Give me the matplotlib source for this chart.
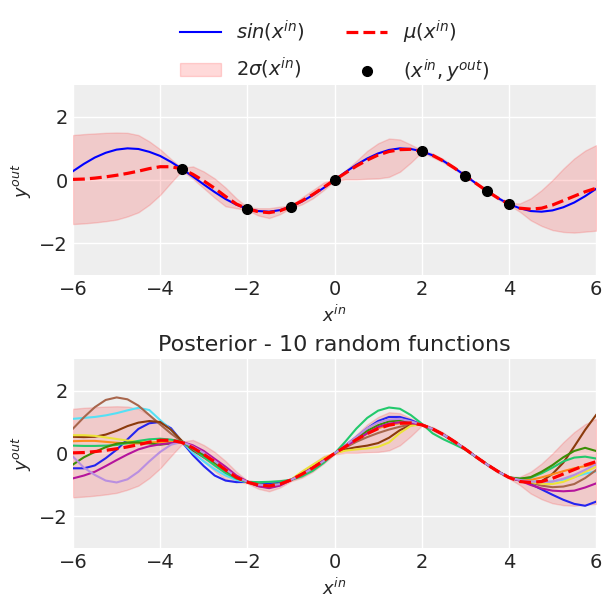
import numpy as np
import matplotlib
matplotlib.use("Agg")
import matplotlib.pyplot as plt

plt.rcParams.update({
    "font.family": "DejaVu Sans",
    "axes.facecolor": "#eeeeee",
    "axes.edgecolor": "#eeeeee",
    "axes.grid": True,
    "grid.color": "white",
    "grid.linewidth": 1.0,
    "axes.axisbelow": True,
    "xtick.labelsize": 14,
    "ytick.labelsize": 14,
    "xtick.color": "#262626",
    "ytick.color": "#262626",
    "xtick.major.size": 0,
    "ytick.major.size": 0,
    "axes.labelsize": 13,
    "axes.titlesize": 16,
    "text.color": "#262626",
    "axes.labelcolor": "#262626",
})

# grid of inputs the curves were read on
x_grid = np.linspace(-6, 6, 49)

# observed points
x_obs = [-3.5, -2, -1, 0, 2, 3, 3.5, 4]
y_obs = [0.35, -0.91, -0.84, 0.0, 0.91, 0.14, -0.35, -0.76]

sin_vals = [0.28, 0.51, 0.71, 0.86, 0.96, 1.00, 0.98, 0.89, 0.76, 0.57, 0.35, 0.11,
            -0.14, -0.38, -0.60, -0.78, -0.91, -0.98, -1.00, -0.95, -0.84, -0.68, -0.48, -0.25,
            0.00, 0.25, 0.48, 0.68, 0.84, 0.95, 1.00, 0.98, 0.91, 0.78, 0.60, 0.38,
            0.14, -0.11, -0.35, -0.57, -0.76, -0.89, -0.98, -1.00, -0.96, -0.86, -0.71, -0.51, -0.28]

mu_vals = [0.02, 0.03, 0.06, 0.10, 0.15, 0.21, 0.28, 0.36, 0.42, 0.42, 0.35, 0.18,
           -0.03, -0.26, -0.52, -0.76, -0.91, -1.00, -1.03, -0.97, -0.84, -0.66, -0.46, -0.23,
           0.00, 0.22, 0.44, 0.63, 0.79, 0.90, 0.96, 0.97, 0.91, 0.78, 0.60, 0.38,
           0.14, -0.11, -0.35, -0.57, -0.76, -0.89, -0.92, -0.89, -0.79, -0.65, -0.51, -0.37, -0.26]

band_hi = [1.42, 1.45, 1.47, 1.49, 1.50, 1.49, 1.42, 1.22, 0.97, 0.66, 0.38, 0.43,
           0.27, 0.05, -0.24, -0.58, -0.86, -0.89, -0.89, -0.84, -0.81, -0.55, -0.32, -0.08,
           0.03, 0.30, 0.60, 0.92, 1.16, 1.31, 1.28, 1.12, 0.94, 0.84, 0.66, 0.42,
           0.17, -0.08, -0.32, -0.53, -0.73, -0.74, -0.58, -0.32, 0.00, 0.36, 0.68, 0.93, 1.10]

band_lo = [-1.39, -1.37, -1.34, -1.30, -1.25, -1.15, -1.02, -0.78, -0.47, -0.08, 0.30, 0.04,
           -0.26, -0.56, -0.83, -0.89, -0.95, -1.12, -1.20, -1.08, -0.88, -0.77, -0.58, -0.32,
           -0.03, 0.02, 0.02, 0.04, 0.05, 0.10, 0.26, 0.55, 0.88, 0.72, 0.55, 0.34,
           0.11, -0.14, -0.38, -0.61, -0.79, -1.00, -1.27, -1.45, -1.58, -1.64, -1.66, -1.63, -1.60]

# 10 posterior draws
draw_blue = [-0.47, -0.47, -0.38, -0.15, 0.12, 0.45, 0.78, 0.96, 1.00, 0.80, 0.37, -0.05,
             -0.40, -0.70, -0.86, -0.91, -0.90, -0.94, -0.96, -0.93, -0.83, -0.67, -0.46, -0.22,
             0.00, 0.26, 0.52, 0.80, 1.03, 1.16, 1.16, 1.06, 0.92, 0.77, 0.59, 0.37,
             0.14, -0.11, -0.35, -0.57, -0.76, -0.85, -0.97, -1.14, -1.31, -1.47, -1.60, -1.66, -1.53]
draw_cyan = [1.10, 1.13, 1.16, 1.21, 1.28, 1.37, 1.45, 1.38, 1.06, 0.75, 0.38, 0.02,
             -0.25, -0.50, -0.70, -0.84, -0.91, -0.98, -1.01, -0.96, -0.84, -0.66, -0.46, -0.23,
             0.00, 0.23, 0.45, 0.66, 0.83, 0.93, 0.97, 0.96, 0.91, 0.77, 0.59, 0.37,
             0.14, -0.11, -0.35, -0.57, -0.76, -0.86, -0.89, -0.90, -0.89, -0.83, -0.75, -0.64, -0.57]
draw_brown = [0.79, 1.15, 1.47, 1.70, 1.78, 1.72, 1.52, 1.22, 0.92, 0.63, 0.38, 0.12,
              -0.10, -0.32, -0.55, -0.76, -0.90, -0.99, -1.03, -0.98, -0.84, -0.65, -0.45, -0.22,
              0.00, 0.19, 0.37, 0.52, 0.65, 0.76, 0.85, 0.92, 0.92, 0.78, 0.60, 0.38,
              0.14, -0.11, -0.35, -0.57, -0.76, -0.85, -0.93, -1.02, -1.07, -1.05, -0.97, -0.78, -0.53]
draw_darkbrown = [0.53, 0.52, 0.53, 0.60, 0.72, 0.87, 0.98, 1.03, 1.00, 0.75, 0.40, 0.10,
                  -0.12, -0.33, -0.56, -0.77, -0.91, -1.03, -1.08, -1.00, -0.84, -0.65, -0.44, -0.21,
                  0.00, 0.13, 0.20, 0.25, 0.33, 0.50, 0.74, 0.90, 0.92, 0.78, 0.60, 0.38,
                  0.14, -0.11, -0.35, -0.57, -0.76, -0.86, -0.92, -0.88, -0.65, -0.29, 0.22, 0.75, 1.22]
draw_yellow = [0.58, 0.58, 0.56, 0.51, 0.46, 0.41, 0.38, 0.36, 0.36, 0.37, 0.37, 0.17,
               -0.06, -0.30, -0.55, -0.77, -0.90, -1.01, -1.05, -0.98, -0.83, -0.58, -0.36, -0.15,
               0.00, 0.09, 0.13, 0.16, 0.21, 0.35, 0.65, 0.88, 0.92, 0.78, 0.60, 0.38,
               0.14, -0.11, -0.35, -0.57, -0.76, -0.83, -0.91, -0.96, -0.97, -0.90, -0.76, -0.58, -0.42]
draw_orange = [0.39, 0.40, 0.40, 0.37, 0.34, 0.32, 0.32, 0.34, 0.37, 0.38, 0.38, 0.16,
               -0.06, -0.30, -0.54, -0.76, -0.90, -0.99, -1.02, -0.97, -0.84, -0.66, -0.46, -0.23,
               0.00, 0.21, 0.42, 0.63, 0.80, 0.91, 0.96, 0.96, 0.91, 0.78, 0.60, 0.38,
               0.14, -0.11, -0.35, -0.57, -0.76, -0.82, -0.84, -0.76, -0.66, -0.56, -0.47, -0.40, -0.34]
draw_green = [0.25, 0.24, 0.24, 0.25, 0.27, 0.33, 0.40, 0.45, 0.47, 0.44, 0.38, 0.14,
              -0.12, -0.38, -0.62, -0.80, -0.90, -0.91, -0.90, -0.88, -0.84, -0.73, -0.55, -0.30,
              0.00, 0.38, 0.79, 1.13, 1.36, 1.46, 1.42, 1.22, 0.95, 0.64, 0.45, 0.29,
              0.12, -0.12, -0.35, -0.57, -0.76, -0.80, -0.77, -0.63, -0.45, -0.25, -0.13, -0.10, -0.16]
draw_darkgreen = [-0.35, -0.12, 0.05, 0.20, 0.31, 0.35, 0.35, 0.32, 0.28, 0.32, 0.38, 0.18,
                  -0.05, -0.29, -0.54, -0.76, -0.90, -0.98, -1.01, -0.96, -0.84, -0.67, -0.47, -0.24,
                  0.00, 0.24, 0.48, 0.72, 0.90, 1.02, 1.05, 1.00, 0.92, 0.78, 0.60, 0.38,
                  0.14, -0.11, -0.35, -0.57, -0.76, -0.80, -0.75, -0.58, -0.37, -0.12, 0.08, 0.18, 0.08]
draw_magenta = [-0.79, -0.70, -0.58, -0.40, -0.21, -0.03, 0.13, 0.23, 0.29, 0.33, 0.37, 0.26,
                0.08, -0.17, -0.42, -0.70, -0.89, -1.04, -1.10, -1.02, -0.84, -0.65, -0.45, -0.22,
                0.00, 0.22, 0.43, 0.64, 0.84, 0.95, 0.99, 0.97, 0.92, 0.78, 0.60, 0.38,
                0.14, -0.11, -0.35, -0.57, -0.76, -0.86, -1.00, -1.11, -1.18, -1.20, -1.18, -1.08, -0.95]
draw_lavender = [-0.10, -0.45, -0.68, -0.86, -0.92, -0.82, -0.58, -0.25, 0.05, 0.28, 0.37, 0.22,
                 0.02, -0.24, -0.50, -0.75, -0.90, -0.99, -1.02, -0.97, -0.84, -0.67, -0.47, -0.24,
                 0.00, 0.26, 0.53, 0.80, 0.98, 1.08, 1.10, 1.02, 0.92, 0.78, 0.60, 0.38,
                 0.14, -0.11, -0.35, -0.57, -0.76, -0.84, -0.89, -0.91, -0.89, -0.80, -0.68, -0.52, -0.34]

draws = [draw_blue, draw_cyan, draw_brown, draw_darkbrown, draw_yellow,
         draw_orange, draw_green, draw_darkgreen, draw_magenta, draw_lavender]
draw_colors = ["#2424f0", "#55e0f5", "#a8664c", "#8b3a0c", "#ece33a",
               "#ff8a1c", "#22c96c", "#3c8e06", "#b5149c", "#b98fe0"]

xticks = [-6, -4, -2, 0, 2, 4, 6]
yticks = [-2, 0, 2]

fig = plt.figure(figsize=(6.11, 6.09), dpi=100)
ax1 = fig.add_axes([0.1195, 0.5484, 0.856, 0.312])
ax2 = fig.add_axes([0.1195, 0.1002, 0.856, 0.3103])

# top: data, truth and posterior mean
band = ax1.fill_between(x_grid, band_lo, band_hi, color="r", alpha=0.15,
                        label=r"$2\sigma(x^{in})$")
l_sin, = ax1.plot(x_grid, sin_vals, color="b", lw=1.5, label=r"$sin(x^{in})$")
l_mu, = ax1.plot(x_grid, mu_vals, "r--", lw=2.3, label=r"$\mu(x^{in})$")
pts, = ax1.plot(x_obs, y_obs, "ko", ms=7, label=r"$(x^{in}, y^{out})$")
ax1.set_xlabel(r"$x^{in}$")
ax1.set_ylabel(r"$y^{out}$")
ax1.legend(handles=[l_sin, band, l_mu, pts], ncol=2, loc="lower center",
           bbox_to_anchor=(0.5, 0.91), frameon=False, fontsize=14,
           handlelength=2.1, columnspacing=2.1, labelspacing=0.6)

# bottom: random posterior functions
ax2.fill_between(x_grid, band_lo, band_hi, color="r", alpha=0.15)
for vals, c in zip(draws, draw_colors):
    ax2.plot(x_grid, vals, color=c, lw=1.5)
ax2.plot(x_grid, mu_vals, "r--", lw=2.3)
ax2.set_title("Posterior - 10 random functions")
ax2.set_xlabel(r"$x^{in}$")
ax2.set_ylabel(r"$y^{out}$")

for ax in (ax1, ax2):
    ax.set_xlim(-6, 6)
    ax.set_ylim(-3, 3)
    ax.set_xticks(xticks)
    ax.set_yticks(yticks)
    for s in ax.spines.values():
        s.set_visible(False)

fig.savefig("out.png", dpi=100)
